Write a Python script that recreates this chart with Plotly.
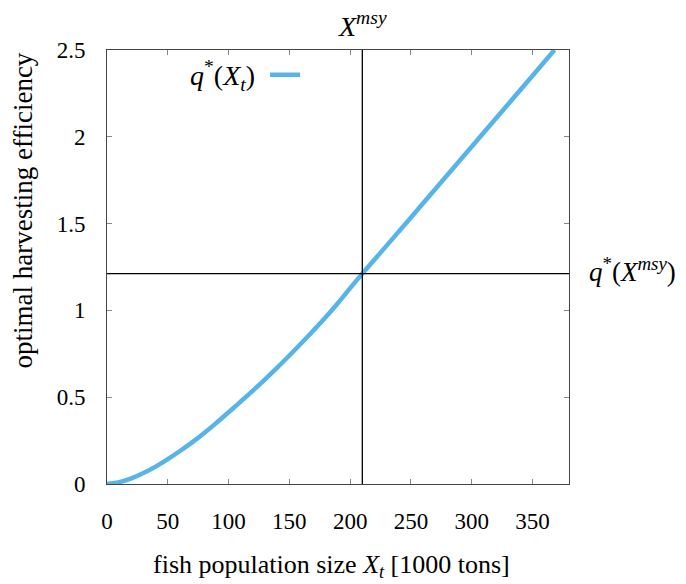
import plotly.graph_objects as go

# data
x_pop = [0, 10, 20, 30, 40, 50, 60, 70, 80, 90, 100, 110, 120, 130, 140, 150,
         160, 170, 180, 190, 200, 210, 230, 260, 290, 320, 350, 368]
q_opt = [0, 0.01, 0.032, 0.063, 0.10, 0.143, 0.19, 0.24, 0.294, 0.352, 0.413,
         0.475, 0.538, 0.603, 0.67, 0.74, 0.812, 0.886, 0.962, 1.043, 1.128,
         1.212, 1.373, 1.617, 1.862, 2.107, 2.352, 2.5]
X_MSY = 210
Q_MSY = 1.212
x_ticks = [0, 50, 100, 150, 200, 250, 300, 350]
y_ticks = [0, 0.5, 1, 1.5, 2, 2.5]
y_tick_text = ["0", "0.5", "1", "1.5", "2", "2.5"]

FONT = "Liberation Serif"
BLUE = "#56B4E9"

fig = go.Figure()
fig.add_trace(go.Scatter(x=x_pop, y=q_opt, mode="lines",
                         line=dict(color=BLUE, width=4.5, shape="spline"),
                         showlegend=False))

# reference lines
fig.add_shape(type="line", xref="x", yref="paper", x0=X_MSY, x1=X_MSY, y0=0, y1=1,
              line=dict(color="black", width=1.3))
fig.add_shape(type="line", xref="paper", yref="y", x0=0, x1=1, y0=Q_MSY, y1=Q_MSY,
              line=dict(color="black", width=1.3))

# legend (gnuplot style: text then sample)
fig.add_annotation(xref="paper", yref="paper", x=0.325, y=0.941, xanchor="right",
                   yanchor="middle", showarrow=False,
                   text="<i>q</i><sup>*</sup>(<i>X</i><sub><i>t</i></sub>)",
                   font=dict(family=FONT, size=28, color="black"))
fig.add_shape(type="line", xref="paper", yref="paper", x0=0.353, x1=0.418,
              y0=0.943, y1=0.943, line=dict(color=BLUE, width=4.5))

# labels
fig.add_annotation(xref="x", yref="paper", x=X_MSY, y=1.0, yshift=26, showarrow=False,
                   yanchor="middle",
                   text="<i>X</i><sup><i>msy</i></sup>",
                   font=dict(family=FONT, size=28, color="black"))
fig.add_annotation(xref="paper", yref="y", x=1.0, xshift=18, y=Q_MSY, xanchor="left",
                   showarrow=False, yshift=4,
                   text="<i>q</i><sup>*</sup>(<i>X</i><sup><i>msy</i></sup>)",
                   font=dict(family=FONT, size=27, color="black"))
fig.add_annotation(xref="paper", yref="paper", x=-0.181, y=0.631, textangle=-90,
                   showarrow=False, xanchor="center", yanchor="middle",
                   text="optimal harvesting efficiency",
                   font=dict(family=FONT, size=27, color="black"))
fig.add_annotation(xref="paper", yref="paper", x=0.487, y=-0.19, showarrow=False,
                   xanchor="center", yanchor="middle",
                   text="fish population size <i>X</i><sub><i>t</i></sub> [1000 tons]",
                   font=dict(family=FONT, size=26, color="black"))

axis_common = dict(showline=True, mirror="allticks", linecolor="#444", linewidth=1,
                   ticks="inside", ticklen=5, tickcolor="#888", showgrid=False,
                   zeroline=False, automargin=False,
                   tickfont=dict(family=FONT, size=23, color="black"))
fig.update_xaxes(range=[0, 380], tickvals=x_ticks, ticklabelstandoff=16, **axis_common)
fig.update_yaxes(range=[0, 2.5], tickvals=y_ticks, ticktext=y_tick_text,
                 ticklabelstandoff=16, **axis_common)

# page body has an 8px default margin: size/margins compensate so the plot
# area lands where it is in the reference
fig.update_layout(width=678, height=576, plot_bgcolor="white", paper_bgcolor="white",
                  margin=dict(l=99, r=117, t=42, b=100), showlegend=False)

fig.write_html("out.html")
